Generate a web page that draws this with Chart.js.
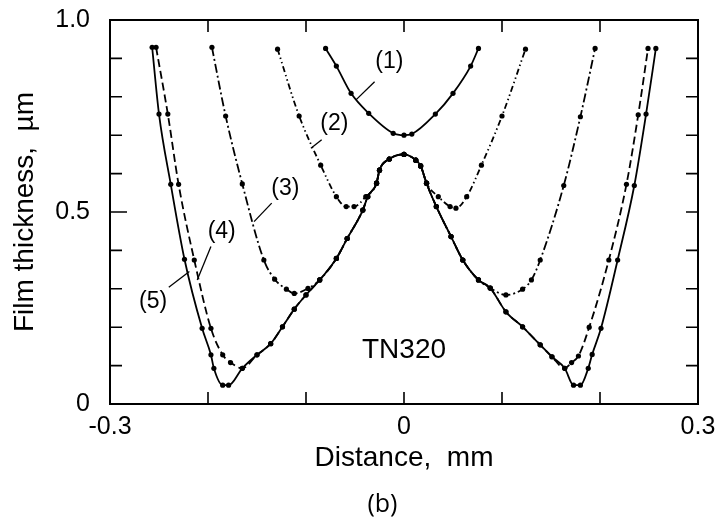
<!DOCTYPE html>
<html>
<head>
<meta charset="utf-8">
<script src="https://cdn.jsdelivr.net/npm/chart.js@4.4.0/dist/chart.umd.min.js"></script>
<style>
  html, body { margin: 0; padding: 0; background: #fff; }
  canvas { display: block; }
</style>
</head>
<body>
<canvas id="chart" width="718" height="524"></canvas>
<script>
// film thickness (um) vs distance (mm)
const curve1 = [
  [-0.080, 0.926], [-0.069, 0.880], [-0.054, 0.809], [-0.036, 0.757], [-0.011, 0.705],
  [0.000, 0.700], [0.008, 0.703], [0.032, 0.755], [0.050, 0.809], [0.068, 0.880], [0.076, 0.926]
];
const curve2 = [
  [-0.129, 0.924], [-0.107, 0.750], [-0.085, 0.622], [-0.069, 0.540], [-0.059, 0.514],
  [-0.051, 0.514], [-0.039, 0.540], [-0.028, 0.575], [-0.025, 0.609], [-0.015, 0.638],
  [0.000, 0.650], [0.012, 0.635], [0.017, 0.620], [0.023, 0.575], [0.035, 0.540],
  [0.047, 0.514], [0.053, 0.510], [0.064, 0.540], [0.079, 0.622], [0.100, 0.750], [0.124, 0.924]
];
const curve3 = [
  [-0.196, 0.929], [-0.182, 0.750], [-0.165, 0.573], [-0.143, 0.375], [-0.132, 0.325],
  [-0.120, 0.299], [-0.112, 0.288], [-0.098, 0.301], [-0.086, 0.323], [-0.069, 0.379],
  [-0.058, 0.431], [-0.042, 0.505], [-0.037, 0.540], [-0.028, 0.575], [-0.025, 0.609],
  [-0.015, 0.638], [0.000, 0.650], [0.012, 0.635], [0.017, 0.620], [0.023, 0.575],
  [0.033, 0.514], [0.048, 0.436], [0.060, 0.375], [0.076, 0.323], [0.088, 0.302],
  [0.104, 0.284], [0.121, 0.299], [0.130, 0.323], [0.139, 0.375], [0.163, 0.569],
  [0.180, 0.748], [0.195, 0.926]
];
const curve4 = [
  [-0.253, 0.929], [-0.241, 0.755], [-0.230, 0.572], [-0.214, 0.375], [-0.197, 0.197],
  [-0.185, 0.128], [-0.177, 0.108], [-0.165, 0.093], [-0.150, 0.128], [-0.136, 0.157],
  [-0.124, 0.201], [-0.112, 0.247], [-0.100, 0.284], [-0.086, 0.323], [-0.069, 0.379],
  [-0.058, 0.431], [-0.042, 0.505], [-0.037, 0.540], [-0.028, 0.575], [-0.025, 0.609],
  [-0.015, 0.638], [0.000, 0.650], [0.012, 0.635], [0.017, 0.620], [0.023, 0.575],
  [0.033, 0.514], [0.048, 0.436], [0.060, 0.375], [0.076, 0.323], [0.088, 0.302],
  [0.104, 0.240], [0.121, 0.201], [0.139, 0.154], [0.151, 0.123], [0.164, 0.093],
  [0.171, 0.108], [0.178, 0.125], [0.189, 0.200], [0.209, 0.375], [0.227, 0.572],
  [0.239, 0.753], [0.249, 0.926]
];
const curve5 = [
  [-0.257, 0.929], [-0.250, 0.755], [-0.238, 0.572], [-0.224, 0.377], [-0.206, 0.197],
  [-0.197, 0.128], [-0.194, 0.093], [-0.185, 0.049], [-0.179, 0.049], [-0.165, 0.093],
  [-0.150, 0.128], [-0.136, 0.157], [-0.124, 0.201], [-0.112, 0.247], [-0.100, 0.284],
  [-0.086, 0.323], [-0.069, 0.379], [-0.058, 0.431], [-0.042, 0.505], [-0.037, 0.540],
  [-0.028, 0.575], [-0.025, 0.609], [-0.015, 0.638], [0.000, 0.650], [0.012, 0.635],
  [0.017, 0.620], [0.023, 0.575], [0.033, 0.514], [0.048, 0.436], [0.060, 0.375],
  [0.076, 0.323], [0.088, 0.302], [0.104, 0.240], [0.121, 0.201], [0.139, 0.154],
  [0.151, 0.123], [0.164, 0.093], [0.173, 0.049], [0.180, 0.049], [0.188, 0.093],
  [0.192, 0.129], [0.201, 0.197], [0.218, 0.375], [0.235, 0.569], [0.247, 0.755],
  [0.257, 0.926]
];

const curves = [curve1, curve2, curve3, curve4, curve5];
const curveNames = ['(1)', '(2)', '(3)', '(4)', '(5)'];
const xLabelValues = [-0.3, 0, 0.3];
const yLabelValues = [0, 0.5, 1.0];

const dashes = [[], [6, 3, 1.5, 3, 1.5, 3], [9, 3, 2, 3], [8, 4], []];
const FONT = "'Liberation Sans', Arial, sans-serif";

// curve labels with their leader lines, in data units
const callouts = [
  { text: '(1)', at: [-0.015, 0.891], from: [-0.030, 0.839], to: [-0.049, 0.792] },
  { text: '(2)', at: [-0.071, 0.731], from: [-0.084, 0.688], to: [-0.095, 0.666] },
  { text: '(3)', at: [-0.121, 0.562], from: [-0.135, 0.523], to: [-0.153, 0.475] },
  { text: '(4)', at: [-0.186, 0.449], from: [-0.197, 0.410], to: [-0.211, 0.323] },
  { text: '(5)', at: [-0.256, 0.266], from: [-0.240, 0.304], to: [-0.219, 0.345] }
];

const near = (v, list) => list.some(t => Math.abs(t - v) < 1e-9);

const frameTicks = {
    id: 'frameTicks',
    afterDatasetsDraw(chart) {
        const { ctx, chartArea: a, scales: { x, y } } = chart;
        ctx.save();
        ctx.strokeStyle = '#000';
        ctx.lineWidth = 2;
        ctx.strokeRect(a.left, a.top, a.right - a.left, a.bottom - a.top);

        ctx.lineWidth = 1.6;
        ctx.beginPath();
        x.ticks.forEach(t => {
            if (near(t.value, [x.min, x.max])) return;
            const px = x.getPixelForValue(t.value);
            ctx.moveTo(px, a.bottom); ctx.lineTo(px, a.bottom - 12);
            ctx.moveTo(px, a.top); ctx.lineTo(px, a.top + 12);
        });
        y.ticks.forEach(t => {
            if (near(t.value, [y.min, y.max])) return;
            const py = y.getPixelForValue(t.value);
            const len = near(t.value, [0.5]) ? 17 : 12;
            ctx.moveTo(a.left, py); ctx.lineTo(a.left + len, py);
            ctx.moveTo(a.right, py); ctx.lineTo(a.right - 12, py);
        });
        ctx.stroke();
        ctx.restore();
    }
};

const notes = {
    id: 'notes',
    afterDatasetsDraw(chart) {
        const { ctx, scales: { x, y } } = chart;
        ctx.save();
        ctx.fillStyle = '#000';
        ctx.strokeStyle = '#000';
        ctx.lineWidth = 1.3;
        ctx.textAlign = 'center';
        ctx.textBaseline = 'middle';
        ctx.font = `23px ${FONT}`;
        callouts.forEach(c => {
            ctx.fillText(c.text, x.getPixelForValue(c.at[0]), y.getPixelForValue(c.at[1]));
            ctx.beginPath();
            ctx.moveTo(x.getPixelForValue(c.from[0]), y.getPixelForValue(c.from[1]));
            ctx.lineTo(x.getPixelForValue(c.to[0]), y.getPixelForValue(c.to[1]));
            ctx.stroke();
        });
        ctx.font = `28px ${FONT}`;
        ctx.fillText('TN320', x.getPixelForValue(0), y.getPixelForValue(0.141));
        ctx.font = "25px 'Open Sans', sans-serif";
        ctx.fillText('(b)', x.getPixelForValue(-0.022), 505);
        ctx.restore();
    }
};

const ctx = document.getElementById('chart').getContext('2d');

new Chart(ctx, {
    type: 'scatter',
    data: {
        datasets: curves.map((c, i) => ({
            label: curveNames[i],
            data: c.map(p => ({ x: p[0], y: p[1] })),
            showLine: true,
            borderColor: '#000',
            borderWidth: 1.8,
            borderDash: dashes[i],
            cubicInterpolationMode: 'monotone',
            pointRadius: 2.6,
            pointBackgroundColor: '#000',
            pointBorderWidth: 0,
            pointHoverRadius: 2.6
        }))
    },
    options: {
        responsive: false,
        animation: false,
        events: [],
        layout: { padding: { left: 0, right: 20, top: 20, bottom: 0 } },
        plugins: {
            legend: { display: false },
            tooltip: { enabled: false }
        },
        scales: {
            x: {
                type: 'linear',
                min: -0.3,
                max: 0.3,
                afterFit: s => { s.height = 120; s.paddingLeft = 0; s.paddingRight = 0; },
                grid: { display: false, drawTicks: false },
                border: { display: false },
                ticks: {
                    stepSize: 0.1,
                    padding: 8,
                    color: '#000',
                    font: { family: FONT, size: 25 },
                    maxRotation: 0,
                    autoSkip: false,
                    callback: v => near(v, xLabelValues) ? (Math.abs(v) < 1e-9 ? '0' : v.toFixed(1)) : ''
                },
                title: {
                    display: true,
                    text: 'Distance,  mm',
                    color: '#000',
                    font: { family: FONT, size: 28 },
                    padding: { top: 0, bottom: 49 }
                }
            },
            y: {
                type: 'linear',
                min: 0,
                max: 1,
                afterFit: s => { s.width = 110; s.paddingTop = 0; s.paddingBottom = 0; },
                grid: { display: false, drawTicks: false },
                border: { display: false },
                ticks: {
                    stepSize: 0.1,
                    padding: 20,
                    color: '#000',
                    font: { family: FONT, size: 25 },
                    autoSkip: false,
                    callback: v => near(v, yLabelValues) ? (Math.abs(v) < 1e-9 ? '0' : v.toFixed(1)) : ''
                },
                title: {
                    display: true,
                    text: 'Film thickness,  \u00b5m',
                    color: '#000',
                    font: { family: FONT, size: 28 },
                    padding: { top: 8, bottom: 0 }
                }
            }
        }
    },
    plugins: [frameTicks, notes]
});
</script>
</body>
</html>
